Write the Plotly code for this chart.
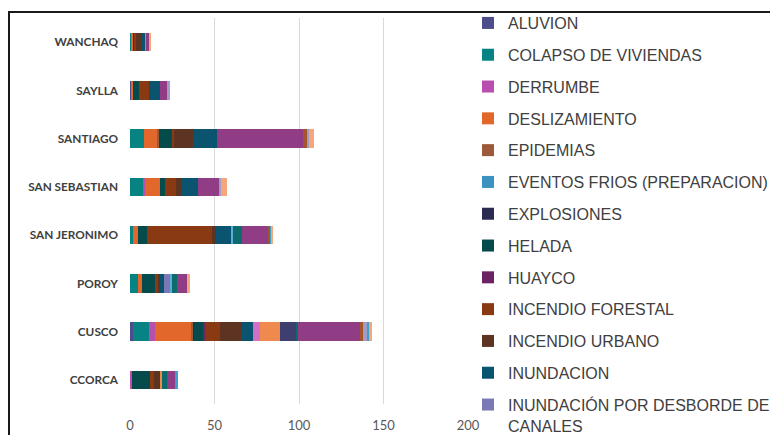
import plotly.graph_objects as go

categories = ["CCORCA", "CUSCO", "POROY", "SAN JERONIMO", "SAN SEBASTIAN",
              "SANTIAGO", "SAYLLA", "WANCHAQ"]

# visible legend series (order as in legend)
aluvion        = [0, 2, 0, 0, 0, 0, 1, 0]
colapso        = [0, 9.5, 5, 2, 8, 8.5, 0, 1]
derrumbe       = [1, 3.5, 0, 0, 1, 0, 0, 0]
deslizamiento  = [0, 21.5, 2, 3, 9, 7.5, 1, 1]
epidemias      = [0, 1, 0, 0, 0, 1, 0, 0]
eventos_frios  = [0, 0, 0, 0, 0, 0, 0, 0]
explosiones    = [0, 0.5, 0, 0, 0, 0, 0, 0]
helada         = [11, 5.5, 8, 5, 3, 8, 3.5, 0.5]
huayco         = [0, 1, 0, 0, 0, 0, 0, 0]
inc_forestal   = [2, 9, 1.5, 38.5, 6.5, 1, 6, 1]
inc_urbano     = [4, 12, 1.5, 2.5, 3.5, 11.5, 0.5, 3]
inundacion     = [0, 7, 2, 8.5, 9, 14, 6, 2.5]
desborde       = [0, 0, 3.5, 0, 0, 0, 0, 0]
# series whose legend entries are cut off in the reference
nevada         = [0, 4.5, 0, 0, 0, 0, 0, 0.5]
otros          = [1, 11.5, 0, 0, 0, 0, 0, 0]
plagas         = [0, 0, 1.3, 1.5, 0, 0, 0, 0]
prec_granizo   = [0, 10, 0, 0, 0, 0, 0, 0]
prec_helada    = [2.7, 1, 3, 5.5, 0, 0, 0, 0]
prec_lluvia    = [5.2, 36.5, 6, 15.5, 13, 51, 4, 1.5]
sequia         = [0, 2, 0, 1, 0, 2, 0, 0]
sismo          = [0, 2.5, 0, 0, 0.8, 1.5, 1.5, 0]
tormenta       = [1.6, 1, 0, 1, 0, 0, 0, 0]
vientos        = [0, 1.5, 1.5, 0.5, 3.5, 3, 0, 1.5]

series = [
    ("ALUVION", aluvion, "#4E4D8C", True),
    ("COLAPSO DE VIVIENDAS", colapso, "#078383", True),
    ("DERRUMBE", derrumbe, "#B84FAE", True),
    ("DESLIZAMIENTO", deslizamiento, "#E2672A", True),
    ("EPIDEMIAS", epidemias, "#9C5A3A", True),
    ("EVENTOS FRIOS (PREPARACION)", eventos_frios, "#3A93C0", True),
    ("EXPLOSIONES", explosiones, "#2B2B50", True),
    ("HELADA", helada, "#054B4C", True),
    ("HUAYCO", huayco, "#6C2363", True),
    ("INCENDIO FORESTAL", inc_forestal, "#8A3A12", True),
    ("INCENDIO URBANO", inc_urbano, "#5D3421", True),
    ("INUNDACION", inundacion, "#0B5470", True),
    ("INUNDACIÓN POR DESBORDE DE<br>CANALES", desborde, "#7B79B5", True),
    ("NEVADA", nevada, "#D070C6", False),
    ("OTROS", otros, "#F0894E", False),
    ("PLAGAS", plagas, "#5BAEDC", False),
    ("PRECIPITACIONES - GRANIZO", prec_granizo, "#3F3F6F", False),
    ("PRECIPITACIONES - HELADA", prec_helada, "#0D6B6C", False),
    ("PRECIPITACIONES - LLUVIA", prec_lluvia, "#913D86", False),
    ("SEQUIA", sequia, "#A4552C", False),
    ("SISMO", sismo, "#A09CC8", False),
    ("TORMENTA ELECTRICA", tormenta, "#3D9FCB", False),
    ("VIENTOS FUERTES", vientos, "#F6A67B", False),
]

fig = go.Figure()
for i, (name, vals, color, show) in enumerate(series):
    fig.add_trace(go.Bar(
        y=categories, x=vals, name=name, orientation="h",
        marker=dict(color=color, line=dict(width=0)),
        showlegend=show, legendgroup=f"g{i}",
    ))

fig.update_layout(
    width=770, height=435,
    barmode="stack", bargap=0.62,
    plot_bgcolor="white", paper_bgcolor="white",
    margin=dict(l=130, r=302, t=18, b=31, autoexpand=False),
    font=dict(family="Liberation Sans", color="#404040"),
    legend=dict(
        x=1.0, xanchor="left", y=1.031, yanchor="top",
        font=dict(family="Liberation Sans", size=16, color="#404040"),
        tracegroupgap=8, bgcolor="rgba(0,0,0,0)", maxheight=600,
        valign="top",
    ),
    xaxis=dict(
        range=[0, 200], tickvals=[0, 50, 100, 150, 200],
        showgrid=True, gridcolor="#D9D9D9", gridwidth=1,
        zeroline=False, showline=False, ticks="",
        ticklabelstandoff=12,
        tickfont=dict(family="Lato", size=13, color="#595959"),
    ),
    yaxis=dict(
        categoryorder="array", categoryarray=categories,
        showgrid=False, zeroline=False, showline=False, ticks="",
        ticklabelstandoff=11,
        tickfont=dict(family="Lato", size=11.8, color="#404040", weight="bold"),
    ),
    shapes=[dict(
        type="rect", xref="paper", yref="paper",
        x0=-0.358, x1=1.95, y0=-0.2, y1=1.0155,
        line=dict(color="#1A1A1A", width=2), fillcolor="rgba(0,0,0,0)",
        layer="above",
    )],
)

fig.write_html("out.html", config={"displayModeBar": False},
               post_script="document.body.style.margin='0';")
